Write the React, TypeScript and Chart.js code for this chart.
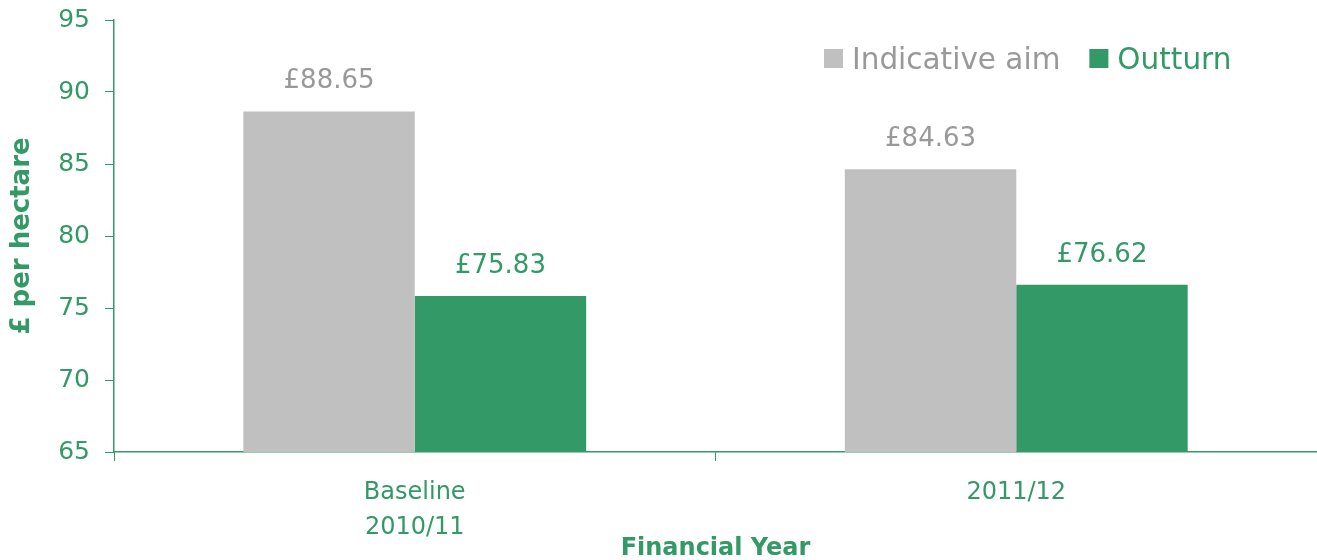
import React, { useEffect, useRef } from "react";
import { Chart, registerables } from "chart.js";

Chart.register(...registerables);

const categories: (string | string[])[] = [["Baseline", "2010/11"], "2011/12"];
const seriesNames = ["Indicative aim", "Outturn"];
const indicativeAim = [88.65, 84.63];
const outturn = [75.83, 76.62];
const yTicks = { min: 65, max: 95, step: 5 };

const GREEN = "#339966";
const GREY = "#C0C0C0";
const GREY_TEXT = "#999999";
const FONT = "'DejaVu Sans', Verdana, sans-serif";

const dataLabelPlugin = {
  id: "dataLabels",
  afterDatasetsDraw(chart: any) {
    const ctx = chart.ctx;
    ctx.save();
    ctx.font = `26px ${FONT}`;
    ctx.textAlign = "center";
    ctx.textBaseline = "alphabetic";
    chart.data.datasets.forEach((ds: any, i: number) => {
      const meta = chart.getDatasetMeta(i);
      ctx.fillStyle = i === 0 ? GREY_TEXT : GREEN;
      meta.data.forEach((el: any, j: number) => {
        const v = ds.data[j] as number;
        ctx.fillText("£" + v.toFixed(2), el.x, el.y - 23);
      });
    });
    ctx.restore();
  },
};

const legendPlugin = {
  id: "customLegend",
  afterDraw(chart: any) {
    const ctx = chart.ctx;
    const area = chart.chartArea;
    ctx.save();
    ctx.font = `29.5px ${FONT}`;
    ctx.textBaseline = "alphabetic";
    ctx.textAlign = "left";
    let x = area.left + 710;
    const boxTop = 49;
    const box = 19;
    const baseline = 69;
    chart.data.datasets.forEach((ds: any, i: number) => {
      ctx.fillStyle = ds.backgroundColor;
      ctx.fillRect(x, boxTop, box, box);
      x += box + 9;
      ctx.fillStyle = i === 0 ? GREY_TEXT : GREEN;
      ctx.fillText(ds.label, x, baseline);
      x += ctx.measureText(ds.label).width + 29;
    });
    ctx.restore();
  },
};

export default function App() {
  const canvasRef = useRef<HTMLCanvasElement | null>(null);

  useEffect(() => {
    if (!canvasRef.current) return;
    const chart = new Chart(canvasRef.current, {
      type: "bar",
      data: {
        labels: categories,
        datasets: [
          {
            label: seriesNames[0],
            data: indicativeAim,
            backgroundColor: GREY,
            borderWidth: 0,
            barPercentage: 1.0,
            categoryPercentage: 0.57,
          },
          {
            label: seriesNames[1],
            data: outturn,
            backgroundColor: GREEN,
            borderWidth: 0,
            barPercentage: 1.0,
            categoryPercentage: 0.57,
          },
        ],
      },
      options: {
        responsive: false,
        animation: false,
        layout: { padding: { top: 20, left: 0, right: 0, bottom: 0 } },
        plugins: {
          legend: { display: false },
          tooltip: { enabled: false },
        },
        scales: {
          x: {
            offset: true,
            grid: {
              display: true,
              offset: true,
              drawOnChartArea: false,
              drawTicks: true,
              tickLength: 9,
              color: GREEN,
              lineWidth: 1,
            },
            border: { display: true, color: GREEN, width: 1.5 },
            ticks: {
              color: GREEN,
              font: { family: FONT, size: 24, lineHeight: 1.458 },
              padding: 14,
              maxRotation: 0,
              autoSkip: false,
            },
            title: {
              display: true,
              text: "Financial Year",
              color: GREEN,
              font: { family: FONT, size: 24, weight: "bold", lineHeight: 1 },
              padding: { top: 0, bottom: -1 },
            },
            afterFit(scale: any) {
              scale.height = 108;
              scale.paddingLeft = 0;
              scale.paddingRight = 0;
            },
          },
          y: {
            min: yTicks.min,
            max: yTicks.max,
            grid: {
              display: true,
              drawOnChartArea: false,
              drawTicks: true,
              tickLength: 9,
              color: GREEN,
              lineWidth: 1,
            },
            border: { display: true, color: GREEN, width: 1.5 },
            ticks: {
              stepSize: yTicks.step,
              color: GREEN,
              font: { family: FONT, size: 25 },
              padding: 15,
            },
            title: {
              display: true,
              text: "£ per hectare",
              color: GREEN,
              font: { family: FONT, size: 26, weight: "bold", lineHeight: 1 },
              padding: { top: 9, bottom: 0 },
            },
            afterFit(scale: any) {
              scale.width = 114;
              scale.paddingTop = 0;
              scale.paddingBottom = 0;
            },
          },
        },
      },
      plugins: [dataLabelPlugin, legendPlugin],
    });
    return () => chart.destroy();
  }, []);

  return (
    <div style={{ position: "fixed", left: 0, top: 0, width: 1317, height: 560, background: "#fff" }}>
      <canvas ref={canvasRef} width={1317} height={560} style={{ display: "block" }} />
    </div>
  );
}
